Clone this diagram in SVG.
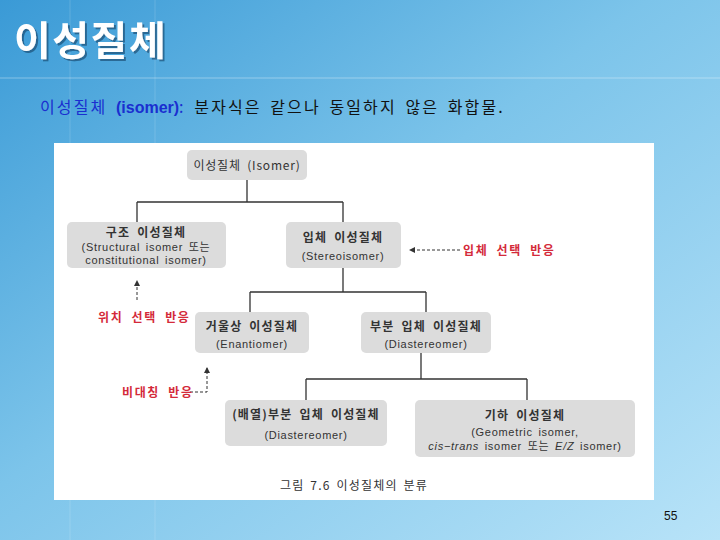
<svg xmlns="http://www.w3.org/2000/svg" width="720" height="540" viewBox="0 0 720 540">
<defs>
<linearGradient id="bg" x1="0" y1="0" x2="1" y2="1">
<stop offset="0" stop-color="#3a9ad6"/>
<stop offset="0.45" stop-color="#7cc4ea"/>
<stop offset="1" stop-color="#b8e3f8"/>
</linearGradient>
<filter id="sh" x="-10%" y="-20%" width="120%" height="150%">
<feDropShadow dx="2" dy="2" stdDeviation="0.6" flood-color="#123f66" flood-opacity="0.6"/>
</filter>
<marker id="ah" markerWidth="6" markerHeight="6" refX="5" refY="3" orient="auto" markerUnits="userSpaceOnUse">
<path d="M0,0 L6,3 L0,6 z" fill="#333"/>
</marker>
<style>
.node rect{fill:#dcdcdc;}
.t{font-family:"Noto Sans CJK KR","Liberation Sans",sans-serif;fill:#333;text-anchor:middle;}
.b{font-weight:bold;font-size:12px;letter-spacing:1.2px;word-spacing:3px;}
.s{font-family:"Liberation Sans","Noto Sans CJK KR",sans-serif;font-size:11px;letter-spacing:0.7px;word-spacing:2px;}
.line{stroke:#333;stroke-width:1.3;fill:none;}
.dash{stroke:#333;stroke-width:1;fill:none;stroke-dasharray:3,2;}
.red{font-family:"Noto Sans CJK KR","Liberation Sans",sans-serif;fill:#d42a3a;font-size:12px;font-weight:bold;letter-spacing:1.6px;word-spacing:4px;}
</style>
</defs>
<rect width="720" height="540" fill="url(#bg)"/>
<line x1="0" y1="78" x2="720" y2="78" stroke="#ffffff" stroke-opacity="0.35" stroke-width="1"/>
<line x1="70" y1="0" x2="70" y2="540" stroke="#ffffff" stroke-opacity="0.15"/>
<line x1="155" y1="0" x2="155" y2="540" stroke="#ffffff" stroke-opacity="0.15"/>
<text x="14" y="55" font-family="Noto Sans CJK KR,sans-serif" font-size="40" font-weight="bold" fill="#ffffff" letter-spacing="1.5" filter="url(#sh)">이성질체</text>
<text x="40" y="113" font-family="Noto Sans CJK KR,Liberation Sans,sans-serif" font-size="16" letter-spacing="2.1" word-spacing="3"><tspan fill="#1a2fd0">이성질체 </tspan><tspan fill="#1a2fd0" font-family="Liberation Sans,sans-serif" font-weight="bold" letter-spacing="0">(isomer)</tspan><tspan fill="#1a2fd0">:</tspan><tspan fill="#111"> 분자식은 같으나 동일하지 않은 화합물.</tspan></text>
<rect x="54" y="143" width="600" height="357" fill="#ffffff"/>
<g id="connectors">
<path class="line" d="M247,180 V202 M137,202 H343 M137,202 V222 M343,202 V222"/>
<path class="line" d="M343,268 V292 M250,292 H426 M250,292 V312 M426,292 V312"/>
<path class="line" d="M421,353 V379 M306,379 H527 M306,379 V400 M527,379 V400"/>
<path class="dash" d="M460,250 H410" marker-end="url(#ah)"/>
<path class="dash" d="M137,300 V281" marker-end="url(#ah)"/>
<path class="dash" d="M190,392 H207 V368" marker-end="url(#ah)"/>
</g>
<g id="isomer" class="node"><rect x="187" y="150" width="120" height="30" rx="5"/><text class="t" x="247" y="170" font-size="12" letter-spacing="0.8" word-spacing="3">이성질체 (Isomer)</text></g>
<g id="structural" class="node"><rect x="67" y="222" width="159" height="46" rx="5"/><text class="t b" x="146" y="237">구조 이성질체</text><text class="t s" x="146" y="251">(Structural isomer 또는</text><text class="t s" x="146" y="264">constitutional isomer)</text></g>
<g id="stereo" class="node"><rect x="286" y="222" width="115" height="46" rx="5"/><text class="t b" x="343" y="242">입체 이성질체</text><text class="t s" x="343" y="260">(Stereoisomer)</text></g>
<g id="enantiomer" class="node"><rect x="195" y="312" width="114" height="41" rx="5"/><text class="t b" x="252" y="331">거울상 이성질체</text><text class="t s" x="252" y="348">(Enantiomer)</text></g>
<g id="diastereomer" class="node"><rect x="361" y="312" width="130" height="41" rx="5"/><text class="t b" x="426" y="331">부분 입체 이성질체</text><text class="t s" x="426" y="348">(Diastereomer)</text></g>
<g id="config-diastereomer" class="node"><rect x="225" y="400" width="162" height="46" rx="5"/><text class="t b" x="306" y="419">(배열)부분 입체 이성질체</text><text class="t s" x="306" y="439">(Diastereomer)</text></g>
<g id="geometric" class="node"><rect x="415" y="400" width="220" height="57" rx="5"/><text class="t b" x="525" y="420">기하 이성질체</text><text class="t s" x="525" y="436">(Geometric isomer,</text><text class="t s" x="525" y="450"><tspan font-style="italic">cis−trans</tspan> isomer 또는 <tspan font-style="italic">E/Z</tspan> isomer)</text></g>
<text class="red" x="463" y="255">입체 선택 반응</text>
<text class="red" x="98" y="322">위치 선택 반응</text>
<text class="red" x="122" y="397">비대칭 반응</text>
<text class="t" x="354" y="490" font-size="12" letter-spacing="1.2" word-spacing="2">그림 7.6 이성질체의 분류</text>
<text x="664" y="520" font-family="Liberation Sans,sans-serif" font-size="12" fill="#111">55</text>
</svg>
